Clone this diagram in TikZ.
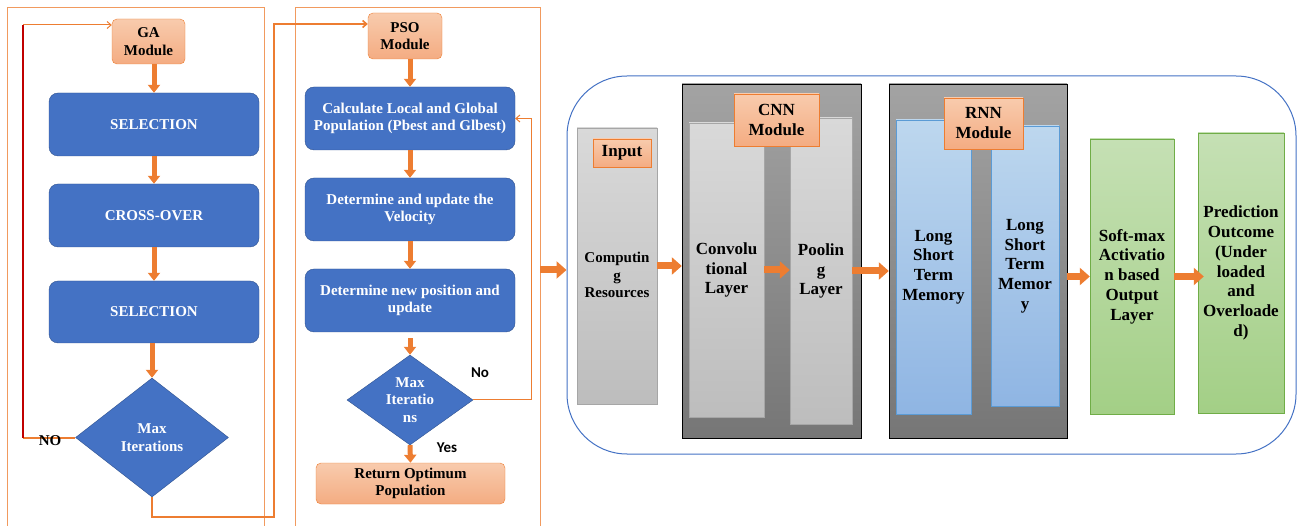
\documentclass[tikz,border=0pt]{standalone}
\usepackage{fontspec}
\setmainfont{Liberation Serif}
\newfontfamily\calib{Carlito}
\usetikzlibrary{shapes.geometric,arrows.meta}

\definecolor{ora}{HTML}{ED7D31}
\definecolor{rimora}{HTML}{F19A5E}
\definecolor{flowblue}{HTML}{4472C4}
\definecolor{flowedge}{HTML}{2F528F}
\definecolor{salmtop}{HTML}{F8CBAD}
\definecolor{salmbot}{HTML}{F4AC82}
\definecolor{loopred}{HTML}{C00000}
\definecolor{gtop}{HTML}{D9D9D9}
\definecolor{gbot}{HTML}{BDBDBD}
\definecolor{gedge}{HTML}{A6A6A6}
\definecolor{dtop}{HTML}{A3A3A3}
\definecolor{dbot}{HTML}{767676}
\definecolor{btop}{HTML}{BDD7EE}
\definecolor{bbot}{HTML}{8FB5E3}
\definecolor{bedge}{HTML}{5B9BD5}
\definecolor{grtop}{HTML}{C5E0B4}
\definecolor{grbot}{HTML}{A3CF86}
\definecolor{gredge}{HTML}{70AD47}

\begin{document}
\begin{tikzpicture}[x=1pt,y=-1pt,
  every node/.style={font=\bfseries\fontsize{15}{17.5}\selectfont,align=center},
  flow/.style={draw=flowedge,fill=flowblue,text=white,rounded corners=9pt,minimum width=210pt,minimum height=63pt},
  mod/.style={draw=ora,top color=salmtop,bottom color=salmbot,rounded corners=5pt},
  tag/.style={draw=ora,top color=salmtop,bottom color=salmbot,inner sep=0pt,font=\bfseries\fontsize{17}{20}\selectfont},
  dec/.style={diamond,draw=flowedge,fill=flowblue,inner sep=0pt},
  wt/.style={text=white},
  greycol/.style={draw=gedge,top color=gtop,bottom color=gbot,font=\bfseries\fontsize{17}{19.7}\selectfont},
  darkbox/.style={draw=black,top color=dtop,bottom color=dbot,minimum width=179pt,minimum height=354pt},
  lstm/.style={draw=bedge,top color=btop,bottom color=bbot,font=\bfseries\fontsize{17}{19.7}\selectfont},
  outcol/.style={draw=gredge,top color=grtop,bottom color=grbot,font=\bfseries\fontsize{17}{19.7}\selectfont},
  fat/.style={-{Triangle[width=12pt,length=8pt]},line width=5pt,ora},
  wide/.style={-{Triangle[width=17pt,length=10pt]},line width=7pt,ora},
  link/.style={-{Straight Barb[length=4pt,width=7pt]},ora,line width=1pt},
  rim/.style={draw=rimora,line width=0.9pt},
  ans/.style={font=\calib\bfseries\fontsize{15}{17}\selectfont}]
\useasboundingbox (0,0) rectangle (1304,526);

% frames round the two optimisers
\draw[rim] (7,526) |- (264,7) -- (264,526);
\draw[rim] (295,526) |- (540,7) -- (540,526);

% GA
\node[mod,minimum width=73pt,minimum height=45pt] (gam) at (148.5,41.5) {GA\\Module};
\node[flow] (gsel1) at (154,124.5) {SELECTION};
\node[flow] (gcross) at (154,215.5) {CROSS-OVER};
\node[flow,minimum height=62pt] (gsel2) at (154,312) {SELECTION};
\node[dec,minimum width=153pt,minimum height=119pt,label={[wt]center:{Max\\Iterations}}] (gmax) at (152,437.5) {};

\draw[fat] (gam.south -| gsel1) -- (gsel1.north);
\draw[fat] (gsel1.south) -- (gcross.north);
\draw[fat] (gcross.south) -- (gcross.south |- gsel2.north);
\draw[fat] (gsel2.south -| gmax) -- (gmax.north);

% back to the top on NO
\coordinate (gno) at (23,437.5);
\coordinate (gtop) at (23,25);
\draw[ora,line width=2pt] (gmax.west) -- (gno);
\draw[loopred,line width=2pt] (gno) -- (gtop);
\draw[link] (gtop) -- (gtop -| gam.west);
\node (nolbl) at (50,441) {NO};

% PSO
\node[mod,minimum width=74pt,minimum height=46pt] (psom) at (405,36) {PSO\\Module};
\node[flow] (pcalc) at (410,118.5) {Calculate Local and Global\\Population (Pbest and Glbest)};
\node[flow] (pvel) at (410,209.5) {Determine and update the\\Velocity};
\node[flow] (ppos) at (410,300.5) {Determine new position and\\update};
\node[dec,aspect=1.4,minimum width=126pt,minimum height=90pt,label={[wt]center:{Max\\Iteratio\\ns}}] (pmax) at (410,400) {};
\node[mod,minimum width=189pt,minimum height=41pt] (pret) at (410.5,483.5) {Return Optimum\\Population};

\draw[fat] (psom.south -| pcalc) -- (pcalc.north);
\draw[fat] (pcalc.south) -- (pvel.north);
\draw[fat] (pvel.south) -- (ppos.north);
\draw[fat] ([yshift=-6pt]ppos.south) -- (pmax.north);
\draw[fat] (pmax.south) -- (pret.north);
\draw[link] (pmax.east) -| ([xshift=16pt]pcalc.east) |- (pcalc.east);
\node[ans] (pno) at (480,373) {No};
\node[ans] (pyes) at (447,448) {Yes};

% GA result goes on to PSO
\coordinate (gturn) at (274,517);
\draw[ora,line width=1.6pt,-{Straight Barb[length=4pt,width=7pt]}] (gmax.south) |- (gturn) |- ([yshift=12pt]psom.west);

% prediction network
\node[draw=flowblue,line width=1pt,rounded corners=60pt,minimum width=729pt,minimum height=378pt] (net) at (931.5,265) {};
\coordinate (psoout) at (540,270);
\draw[wide] (psoout) -- (psoout -| net.west);

\node[greycol,minimum width=80pt,minimum height=276pt,
  label={[font=\bfseries\fontsize{15}{17.5}\selectfont,yshift=-9pt]center:{Computin\\g\\Resources}}] (cres) at (617,266) {};
\node[tag,minimum width=58pt,minimum height=28pt] (inlbl) at (622,153) {Input};

\node[darkbox] (cnn) at (771.5,261) {};
\node[greycol,minimum width=75pt,minimum height=294pt] (conv) at (726.5,270) {Convolu\\tional\\Layer};
\node[greycol,minimum width=62pt,minimum height=306pt] (pool) at (821,271) {Poolin\\g\\Layer};
\node[tag,minimum width=85pt,minimum height=52pt] (cnnlbl) at (776.5,120) {CNN\\Module};

\node[darkbox,minimum width=178pt] (rnn) at (978,261) {};
\node[lstm,minimum width=75pt,minimum height=294pt] (lstma) at (933.5,267) {Long\\Short\\Term\\Memory};
\node[lstm,minimum width=68pt,minimum height=280pt] (lstmb) at (1025,266) {Long\\Short\\Term\\Memor\\y};
\node[tag,minimum width=79pt,minimum height=51pt] (rnnlbl) at (983.5,123.5) {RNN\\Module};

\node[outcol,minimum width=84pt,minimum height=275pt] (soft) at (1132,276.5) {Soft-max\\Activatio\\n based\\Output\\Layer};
\node[outcol,minimum width=86pt,minimum height=280pt] (pred) at (1241,273) {Prediction\\Outcome\\(Under\\loaded\\and\\Overloade\\d)};

\draw[wide] (cres.east) -- (cres.east -| cnn.west);
\draw[wide] (conv.east) -- (conv.east -| pool.west);
\draw[wide] (pool.east) -- (pool.east -| rnn.west);
\draw[wide] (soft.west -| rnn.east) -- (soft.west);
\draw[wide] (soft.east) -- ([xshift=6pt]soft.east -| pred.west);
\end{tikzpicture}
\end{document}
